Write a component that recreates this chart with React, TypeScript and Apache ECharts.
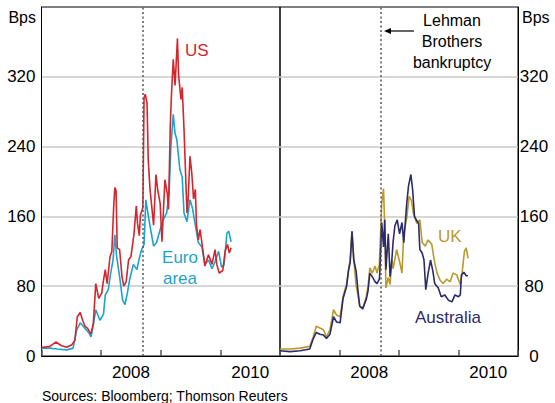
import React, { useEffect, useRef } from "react";
import * as echarts from "echarts";

// [decimal year, basis points]
const usData: [number, number][] = [
  [2007.0, 10], [2007.03, 10], [2007.14, 11], [2007.24, 16], [2007.33, 12], [2007.42, 10], [2007.51, 13],
  [2007.56, 18], [2007.6, 45], [2007.65, 50], [2007.69, 41], [2007.73, 34], [2007.77, 32], [2007.83, 25],
  [2007.87, 38], [2007.91, 83], [2007.96, 66], [2008.01, 72], [2008.04, 87], [2008.07, 99], [2008.1, 83],
  [2008.15, 114], [2008.18, 120], [2008.21, 170], [2008.23, 193], [2008.25, 190], [2008.27, 124],
  [2008.31, 122], [2008.35, 91], [2008.38, 80], [2008.42, 85], [2008.46, 110], [2008.5, 114],
  [2008.55, 139], [2008.59, 172], [2008.61, 152], [2008.64, 138], [2008.66, 162], [2008.7, 170],
  [2008.72, 296], [2008.74, 300], [2008.77, 290], [2008.79, 225], [2008.82, 191], [2008.88, 150],
  [2008.92, 208], [2008.95, 190], [2008.99, 175], [2009.02, 131], [2009.07, 202], [2009.11, 186],
  [2009.13, 168], [2009.16, 264], [2009.18, 300], [2009.21, 340], [2009.24, 310], [2009.28, 364],
  [2009.3, 321], [2009.34, 294], [2009.36, 308], [2009.39, 260], [2009.44, 164], [2009.46, 180],
  [2009.49, 229], [2009.52, 210], [2009.55, 180], [2009.58, 191], [2009.6, 150], [2009.63, 133],
  [2009.66, 145], [2009.71, 120], [2009.74, 103], [2009.8, 116], [2009.86, 105], [2009.91, 122],
  [2009.94, 105], [2009.98, 95], [2010.04, 98], [2010.08, 120], [2010.12, 128], [2010.15, 118],
  [2010.18, 124],
];

const euroData: [number, number][] = [
  [2007.0, 8], [2007.03, 9], [2007.14, 9], [2007.26, 8], [2007.42, 7], [2007.53, 9], [2007.59, 30],
  [2007.65, 38], [2007.7, 34], [2007.79, 27], [2007.83, 22], [2007.87, 36], [2007.91, 53], [2007.98, 41],
  [2008.04, 48], [2008.07, 70], [2008.12, 76], [2008.16, 95], [2008.2, 110], [2008.23, 139],
  [2008.26, 114], [2008.31, 91], [2008.36, 64], [2008.4, 59], [2008.44, 72], [2008.48, 88],
  [2008.54, 105], [2008.6, 99], [2008.64, 112], [2008.68, 122], [2008.72, 128], [2008.75, 179],
  [2008.77, 170], [2008.82, 149], [2008.88, 126], [2008.93, 130], [2008.99, 145], [2009.04, 156],
  [2009.1, 164], [2009.14, 187], [2009.17, 240], [2009.21, 277], [2009.24, 255], [2009.27, 248],
  [2009.32, 214], [2009.36, 205], [2009.39, 164], [2009.44, 154], [2009.49, 179], [2009.53, 170],
  [2009.58, 150], [2009.63, 130], [2009.69, 125], [2009.74, 105], [2009.8, 110], [2009.86, 100],
  [2009.91, 108], [2009.97, 120], [2010.02, 102], [2010.06, 104], [2010.11, 141], [2010.14, 143],
  [2010.18, 131],
];

const ukData: [number, number][] = [
  [2007.0, 8], [2007.17, 8], [2007.34, 9], [2007.5, 11], [2007.56, 22], [2007.61, 34], [2007.67, 32],
  [2007.73, 30], [2007.78, 22], [2007.84, 30], [2007.9, 53], [2007.95, 47], [2008.01, 45], [2008.06, 68],
  [2008.12, 83], [2008.15, 99], [2008.18, 110], [2008.21, 143], [2008.24, 110], [2008.28, 80],
  [2008.31, 70], [2008.34, 57], [2008.39, 55], [2008.45, 68], [2008.48, 80], [2008.51, 101],
  [2008.55, 95], [2008.6, 103], [2008.63, 95], [2008.67, 105], [2008.71, 175], [2008.74, 192],
  [2008.76, 150], [2008.78, 78], [2008.82, 90], [2008.85, 82], [2008.88, 110], [2008.9, 100],
  [2008.96, 122], [2009.01, 108], [2009.05, 95], [2009.08, 141], [2009.13, 158], [2009.17, 183],
  [2009.21, 178], [2009.24, 164], [2009.3, 152], [2009.35, 156], [2009.39, 130], [2009.44, 126],
  [2009.49, 133], [2009.55, 128], [2009.6, 107], [2009.64, 95], [2009.69, 87], [2009.74, 83],
  [2009.8, 88], [2009.86, 85], [2009.91, 95], [2009.97, 93], [2010.03, 82], [2010.06, 95],
  [2010.1, 120], [2010.13, 124], [2010.16, 112],
];

const ausData: [number, number][] = [
  [2007.0, 6], [2007.17, 5], [2007.34, 6], [2007.5, 8], [2007.56, 20], [2007.61, 27], [2007.67, 25],
  [2007.73, 24], [2007.78, 20], [2007.84, 25], [2007.9, 45], [2007.95, 39], [2008.01, 38], [2008.06, 66],
  [2008.12, 80], [2008.15, 97], [2008.18, 108], [2008.21, 143], [2008.24, 110], [2008.28, 97],
  [2008.31, 75], [2008.34, 57], [2008.39, 54], [2008.45, 65], [2008.48, 75], [2008.51, 95],
  [2008.55, 91], [2008.6, 85], [2008.63, 83], [2008.67, 88], [2008.68, 99], [2008.71, 153],
  [2008.74, 125], [2008.76, 156], [2008.78, 99], [2008.82, 140], [2008.85, 91], [2008.88, 110],
  [2008.9, 130], [2008.93, 149], [2008.97, 156], [2009.01, 140], [2009.05, 153], [2009.08, 130],
  [2009.13, 175], [2009.16, 195], [2009.2, 208], [2009.23, 190], [2009.26, 160], [2009.3, 155],
  [2009.33, 152], [2009.35, 122], [2009.39, 118], [2009.42, 110], [2009.45, 76], [2009.49, 95],
  [2009.53, 110], [2009.57, 97], [2009.6, 83], [2009.66, 78], [2009.71, 68], [2009.77, 70],
  [2009.83, 64], [2009.89, 62], [2009.94, 70], [2010.0, 68], [2010.03, 70], [2010.05, 93],
  [2010.09, 96], [2010.13, 92], [2010.16, 92],
];

const yearLabels = [2008, 2010];
const lehmanDate = 2008.705;
const yTicks = [0, 80, 160, 240, 320];

const FONT = "Liberation Sans, Arial, sans-serif";

export default function App() {
  const ref = useRef<HTMLDivElement>(null);
  useEffect(() => {
    if (!ref.current) return;
    const chart = echarts.init(ref.current, null, { renderer: "svg" });

    const grids = [
      { left: 41.5, top: 7, width: 238.5, height: 349 },
      { left: 280, top: 7, width: 238, height: 349 },
    ].map((g) => ({
      ...g,
      show: true,
      borderColor: "#000",
      borderWidth: 1,
      backgroundColor: "transparent",
      containLabel: false,
      outerBoundsMode: "none",
    }));

    const tickAxis = (gi: number) => ({
      type: "value",
      gridIndex: gi,
      position: "bottom",
      min: 2007,
      max: 2011,
      interval: 1,
      axisLine: { show: true, lineStyle: { color: "#000", width: 1 } },
      axisTick: { show: true, inside: true, length: 6, lineStyle: { color: "#555", width: 1.5 } },
      axisLabel: { show: false },
      splitLine: { show: false },
    });
    const labelAxis = (gi: number) => ({
      type: "value",
      gridIndex: gi,
      position: "bottom",
      offset: 0,
      min: 2007,
      max: 2011,
      interval: 0.5,
      axisLine: { show: false },
      axisTick: { show: false },
      splitLine: { show: false },
      axisLabel: {
        show: true,
        margin: 8,
        fontSize: 17,
        fontFamily: FONT,
        color: "#000",
        showMinLabel: true,
        showMaxLabel: true,
        formatter: (v: number) => {
          const y = Math.floor(v);
          return Math.abs(v - y - 0.5) < 1e-6 && yearLabels.includes(y) ? String(y) : "";
        },
      },
    });
    const yAxis = (gi: number, pos: string) => ({
      type: "value",
      gridIndex: gi,
      position: pos,
      min: 0,
      max: 400,
      interval: 80,
      axisLine: { show: true, lineStyle: { color: "#000", width: 1 } },
      axisTick: { show: false },
      axisLabel: {
        margin: pos === "left" ? 6 : 16,
        align: pos === "left" ? "right" : "center",
        fontSize: 17,
        fontFamily: FONT,
        color: "#000",
        formatter: (v: number) => (yTicks.includes(v) ? String(v) : ""),
      },
      splitLine: { show: true, showMaxLine: false, showMinLine: false, lineStyle: { color: "#c8c8c8", width: 1.5 } },
    });

    const lehmanLine = {
      silent: true,
      symbol: ["none", "none"],
      label: { show: false },
      lineStyle: { color: "#555", type: [2, 2.5], width: 1.5 },
      data: [{ xAxis: lehmanDate }],
    };

    const line = (name: string, data: [number, number][], color: string, xi: number, yi: number, ml?: boolean, z = 2) => ({
      name,
      type: "line",
      data,
      xAxisIndex: xi,
      yAxisIndex: yi,
      showSymbol: false,
      z,
      lineStyle: { color, width: 1.6 },
      itemStyle: { color },
      ...(ml ? { markLine: lehmanLine } : {}),
    });

    const textStyle = (color: string, size = 17) => ({ fill: color, font: `${size}px ${FONT}` });

    chart.setOption({
      animation: false,
      grid: grids,
      xAxis: [tickAxis(0), labelAxis(0), tickAxis(1), labelAxis(1)],
      yAxis: [yAxis(0, "left"), yAxis(1, "right")],
      series: [
        line("Euro area", euroData, "#1ea3cc", 0, 0, true, 2),
        line("US", usData, "#d2262e", 0, 0, false, 3),
        line("UK", ukData, "#b99a2c", 2, 1, true, 2),
        line("Australia", ausData, "#2b2b6c", 2, 1, false, 3),
      ],
      graphic: [
        { type: "text", x: 36, y: 17, style: { text: "Bps", ...textStyle("#000", 16), textAlign: "right", textVerticalAlign: "middle" } },
        { type: "text", x: 522, y: 17, style: { text: "Bps", ...textStyle("#000", 16), textAlign: "left", textVerticalAlign: "middle" } },
        { type: "text", x: 185, y: 50, style: { text: "US", ...textStyle("#d2262e"), textVerticalAlign: "middle" } },
        { type: "text", x: 180, y: 268, style: { text: "Euro\narea", ...textStyle("#1ea3cc"), lineHeight: 21, textAlign: "center", textVerticalAlign: "middle" } },
        { type: "text", x: 438, y: 236, style: { text: "UK", ...textStyle("#b99a2c"), textVerticalAlign: "middle" } },
        { type: "text", x: 448, y: 317, style: { text: "Australia", ...textStyle("#2b2b6c"), textAlign: "center", textVerticalAlign: "middle" } },
        { type: "text", x: 452, y: 41, style: { text: "Lehman\nBrothers\nbankruptcy", ...textStyle("#000", 16), lineHeight: 21, textAlign: "center", textVerticalAlign: "middle" } },
        { type: "line", shape: { x1: 414, y1: 31, x2: 389, y2: 31 }, style: { stroke: "#000", lineWidth: 1.2 } },
        { type: "polygon", shape: { points: [[384, 31], [391, 28], [391, 34]] }, style: { fill: "#000" } },
        { type: "text", x: 42, y: 396, style: { text: "Sources: Bloomberg; Thomson Reuters", ...textStyle("#000", 14), textVerticalAlign: "middle" } },
      ],
    });
    return () => chart.dispose();
  }, []);
  return <div ref={ref} style={{ position: "absolute", left: 0, top: 0, width: 555, height: 403 }} />;
}
